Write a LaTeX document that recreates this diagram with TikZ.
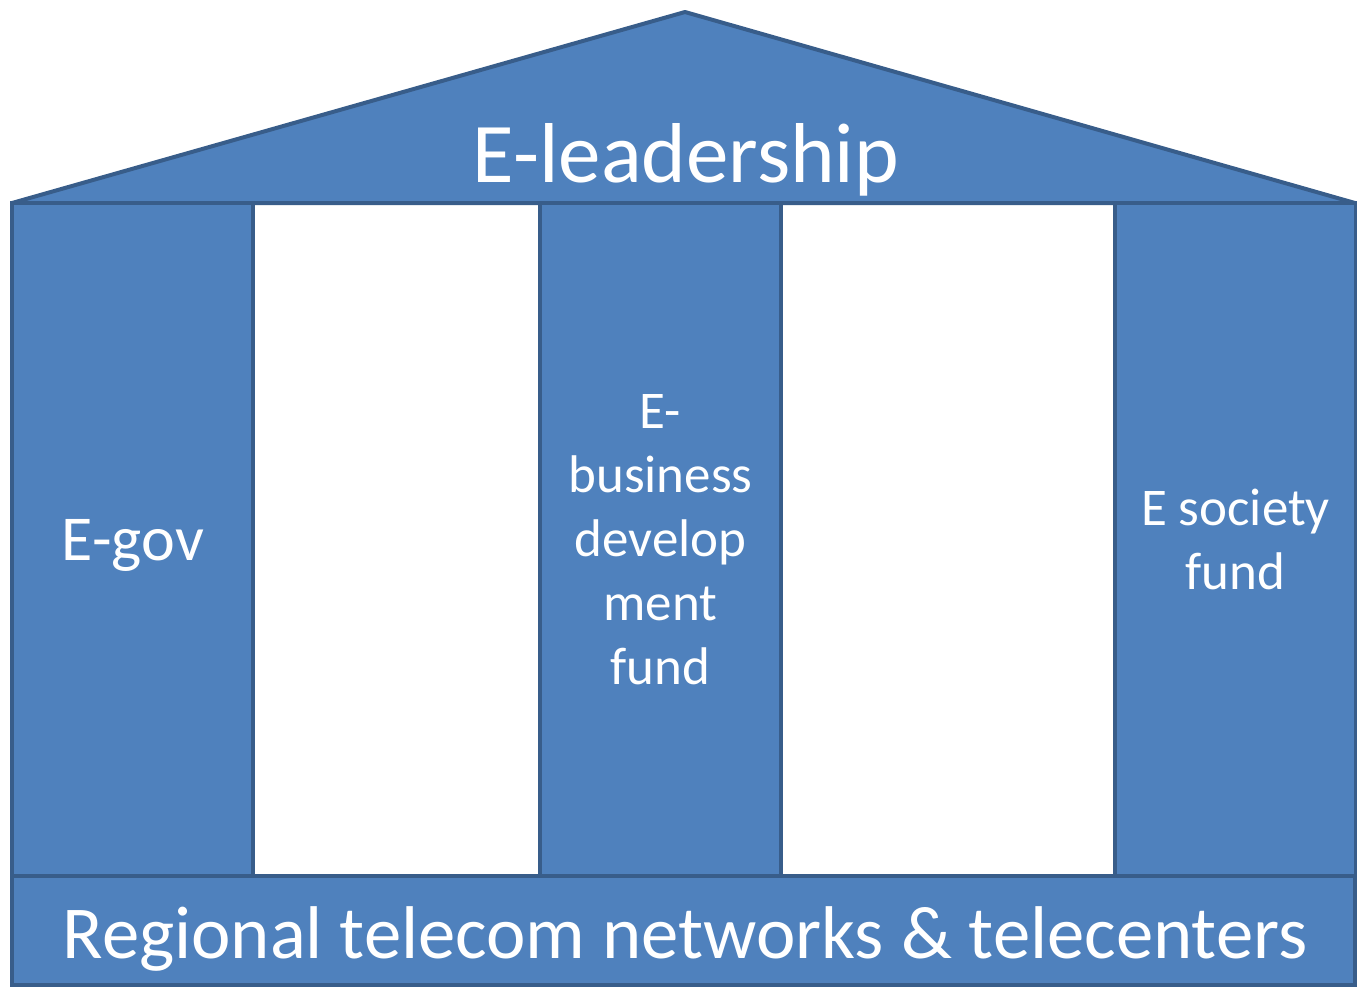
\documentclass[tikz,border=0pt]{standalone}
\usepackage{fontspec}
\setmainfont{Carlito}
\usetikzlibrary{positioning}
\definecolor{housefill}{HTML}{4F81BD}
\definecolor{houseline}{HTML}{385D8A}
\tikzstyle{roof} = [draw=houseline, fill=housefill, line width=4pt, line join=bevel]
\tikzstyle{pillar} = [rectangle, anchor=north west, inner sep=0pt, outer sep=0pt, minimum width=241pt, minimum height=673pt, draw=houseline, fill=housefill, line width=4pt, text=white, align=center, font=\fontsize{53}{64}\selectfont]
\tikzstyle{floor} = [rectangle, anchor=north west, inner sep=0pt, outer sep=0pt, minimum width=1343pt, minimum height=109pt, draw=houseline, fill=housefill, line width=4pt]
\tikzstyle{bigtext} = [anchor=base, inner sep=0pt, text=white]

\begin{document}
\begin{tikzpicture}[x=1pt, y=-1pt]
      \useasboundingbox (0,0) rectangle (1357,986);
      \coordinate (eaveL) at (12,203);
      \coordinate (ridge) at (685,12);
      \coordinate (eaveR) at (1355,203);
      \draw [roof] (eaveL) -- (ridge) -- (eaveR) -- cycle;
      \node (roofname) [bigtext, font=\fontsize{85}{90}\selectfont] at (686,182) {E-leadership};
      \node (egov) [pillar] at (12,203) {};
      \node (ebiz) [pillar] at (540,203) {E-\\business\\develop\\ment\\fund};
      \node (esoc) [pillar] at (1115,203) {E society\\fund};
      \node (egovname) [bigtext, font=\fontsize{64}{64}\selectfont] at (133,560) {E-gov};
      \node (base) [floor] at (12,876) {};
      \node (basename) [bigtext, font=\fontsize{74.7}{80}\selectfont] at (685,958) {Regional telecom networks \& telecenters};
    \end{tikzpicture}
\end{document}
